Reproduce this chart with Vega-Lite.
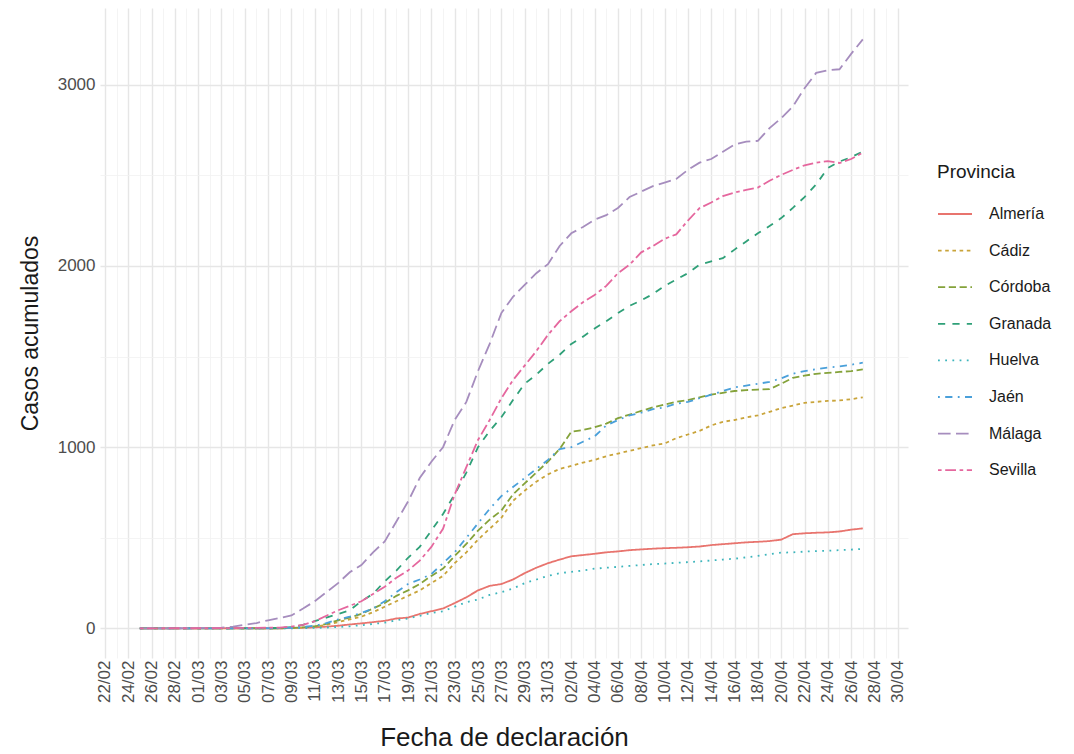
{
  "$schema": "https://vega.github.io/schema/vega-lite/v6.json",
  "width": 808,
  "height": 650,
  "autosize": {"type": "none"},
  "padding": {"left": 100, "top": 8, "right": 166, "bottom": 96},
  "background": "white",
  "config": {
    "view": {"stroke": null},
    "font": "Liberation Sans",
    "axis": {"labelFont": "Liberation Sans", "titleFont": "Liberation Sans", "titleFontWeight": "normal", "domain": false, "ticks": false, "labelColor": "#4D4D4D", "titleColor": "#1A1A1A"},
    "legend": {"labelFont": "Liberation Sans", "titleFont": "Liberation Sans", "titleFontWeight": "normal"}
  },
  "data": {"values": [
{"fecha":"2020-02-25","provincia":"Almería","casos":0},{"fecha":"2020-02-26","provincia":"Almería","casos":0},{"fecha":"2020-02-27","provincia":"Almería","casos":0},{"fecha":"2020-02-28","provincia":"Almería","casos":0},{"fecha":"2020-02-29","provincia":"Almería","casos":0},{"fecha":"2020-03-01","provincia":"Almería","casos":1},{"fecha":"2020-03-02","provincia":"Almería","casos":1},{"fecha":"2020-03-03","provincia":"Almería","casos":1},{"fecha":"2020-03-04","provincia":"Almería","casos":1},{"fecha":"2020-03-05","provincia":"Almería","casos":1},{"fecha":"2020-03-06","provincia":"Almería","casos":1},{"fecha":"2020-03-07","provincia":"Almería","casos":1},{"fecha":"2020-03-08","provincia":"Almería","casos":1},{"fecha":"2020-03-09","provincia":"Almería","casos":2},{"fecha":"2020-03-10","provincia":"Almería","casos":4},{"fecha":"2020-03-11","provincia":"Almería","casos":6},{"fecha":"2020-03-12","provincia":"Almería","casos":10},{"fecha":"2020-03-13","provincia":"Almería","casos":15},{"fecha":"2020-03-14","provincia":"Almería","casos":22},{"fecha":"2020-03-15","provincia":"Almería","casos":28},{"fecha":"2020-03-16","provincia":"Almería","casos":35},{"fecha":"2020-03-17","provincia":"Almería","casos":42},{"fecha":"2020-03-18","provincia":"Almería","casos":55},{"fecha":"2020-03-19","provincia":"Almería","casos":60},{"fecha":"2020-03-20","provincia":"Almería","casos":80},{"fecha":"2020-03-21","provincia":"Almería","casos":95},{"fecha":"2020-03-22","provincia":"Almería","casos":110},{"fecha":"2020-03-23","provincia":"Almería","casos":140},{"fecha":"2020-03-24","provincia":"Almería","casos":172},{"fecha":"2020-03-25","provincia":"Almería","casos":210},{"fecha":"2020-03-26","provincia":"Almería","casos":235},{"fecha":"2020-03-27","provincia":"Almería","casos":245},{"fecha":"2020-03-28","provincia":"Almería","casos":270},{"fecha":"2020-03-29","provincia":"Almería","casos":305},{"fecha":"2020-03-30","provincia":"Almería","casos":335},{"fecha":"2020-03-31","provincia":"Almería","casos":360},{"fecha":"2020-04-01","provincia":"Almería","casos":380},{"fecha":"2020-04-02","provincia":"Almería","casos":398},{"fecha":"2020-04-03","provincia":"Almería","casos":405},{"fecha":"2020-04-04","provincia":"Almería","casos":412},{"fecha":"2020-04-05","provincia":"Almería","casos":420},{"fecha":"2020-04-06","provincia":"Almería","casos":425},{"fecha":"2020-04-07","provincia":"Almería","casos":432},{"fecha":"2020-04-08","provincia":"Almería","casos":436},{"fecha":"2020-04-09","provincia":"Almería","casos":440},{"fecha":"2020-04-10","provincia":"Almería","casos":443},{"fecha":"2020-04-11","provincia":"Almería","casos":445},{"fecha":"2020-04-12","provincia":"Almería","casos":448},{"fecha":"2020-04-13","provincia":"Almería","casos":452},{"fecha":"2020-04-14","provincia":"Almería","casos":460},{"fecha":"2020-04-15","provincia":"Almería","casos":465},{"fecha":"2020-04-16","provincia":"Almería","casos":470},{"fecha":"2020-04-17","provincia":"Almería","casos":475},{"fecha":"2020-04-18","provincia":"Almería","casos":478},{"fecha":"2020-04-19","provincia":"Almería","casos":482},{"fecha":"2020-04-20","provincia":"Almería","casos":490},{"fecha":"2020-04-21","provincia":"Almería","casos":520},{"fecha":"2020-04-22","provincia":"Almería","casos":525},{"fecha":"2020-04-23","provincia":"Almería","casos":528},{"fecha":"2020-04-24","provincia":"Almería","casos":530},{"fecha":"2020-04-25","provincia":"Almería","casos":535},{"fecha":"2020-04-26","provincia":"Almería","casos":545},{"fecha":"2020-04-27","provincia":"Almería","casos":552},
{"fecha":"2020-02-25","provincia":"Cádiz","casos":0},{"fecha":"2020-02-26","provincia":"Cádiz","casos":0},{"fecha":"2020-02-27","provincia":"Cádiz","casos":0},{"fecha":"2020-02-28","provincia":"Cádiz","casos":0},{"fecha":"2020-02-29","provincia":"Cádiz","casos":0},{"fecha":"2020-03-01","provincia":"Cádiz","casos":0},{"fecha":"2020-03-02","provincia":"Cádiz","casos":0},{"fecha":"2020-03-03","provincia":"Cádiz","casos":1},{"fecha":"2020-03-04","provincia":"Cádiz","casos":1},{"fecha":"2020-03-05","provincia":"Cádiz","casos":1},{"fecha":"2020-03-06","provincia":"Cádiz","casos":1},{"fecha":"2020-03-07","provincia":"Cádiz","casos":1},{"fecha":"2020-03-08","provincia":"Cádiz","casos":1},{"fecha":"2020-03-09","provincia":"Cádiz","casos":2},{"fecha":"2020-03-10","provincia":"Cádiz","casos":5},{"fecha":"2020-03-11","provincia":"Cádiz","casos":10},{"fecha":"2020-03-12","provincia":"Cádiz","casos":20},{"fecha":"2020-03-13","provincia":"Cádiz","casos":35},{"fecha":"2020-03-14","provincia":"Cádiz","casos":50},{"fecha":"2020-03-15","provincia":"Cádiz","casos":65},{"fecha":"2020-03-16","provincia":"Cádiz","casos":90},{"fecha":"2020-03-17","provincia":"Cádiz","casos":120},{"fecha":"2020-03-18","provincia":"Cádiz","casos":150},{"fecha":"2020-03-19","provincia":"Cádiz","casos":180},{"fecha":"2020-03-20","provincia":"Cádiz","casos":210},{"fecha":"2020-03-21","provincia":"Cádiz","casos":250},{"fecha":"2020-03-22","provincia":"Cádiz","casos":290},{"fecha":"2020-03-23","provincia":"Cádiz","casos":360},{"fecha":"2020-03-24","provincia":"Cádiz","casos":420},{"fecha":"2020-03-25","provincia":"Cádiz","casos":490},{"fecha":"2020-03-26","provincia":"Cádiz","casos":550},{"fecha":"2020-03-27","provincia":"Cádiz","casos":610},{"fecha":"2020-03-28","provincia":"Cádiz","casos":704},{"fecha":"2020-03-29","provincia":"Cádiz","casos":760},{"fecha":"2020-03-30","provincia":"Cádiz","casos":810},{"fecha":"2020-03-31","provincia":"Cádiz","casos":850},{"fecha":"2020-04-01","provincia":"Cádiz","casos":880},{"fecha":"2020-04-02","provincia":"Cádiz","casos":897},{"fecha":"2020-04-03","provincia":"Cádiz","casos":915},{"fecha":"2020-04-04","provincia":"Cádiz","casos":930},{"fecha":"2020-04-05","provincia":"Cádiz","casos":950},{"fecha":"2020-04-06","provincia":"Cádiz","casos":965},{"fecha":"2020-04-07","provincia":"Cádiz","casos":980},{"fecha":"2020-04-08","provincia":"Cádiz","casos":995},{"fecha":"2020-04-09","provincia":"Cádiz","casos":1010},{"fecha":"2020-04-10","provincia":"Cádiz","casos":1020},{"fecha":"2020-04-11","provincia":"Cádiz","casos":1050},{"fecha":"2020-04-12","provincia":"Cádiz","casos":1070},{"fecha":"2020-04-13","provincia":"Cádiz","casos":1090},{"fecha":"2020-04-14","provincia":"Cádiz","casos":1120},{"fecha":"2020-04-15","provincia":"Cádiz","casos":1140},{"fecha":"2020-04-16","provincia":"Cádiz","casos":1150},{"fecha":"2020-04-17","provincia":"Cádiz","casos":1165},{"fecha":"2020-04-18","provincia":"Cádiz","casos":1175},{"fecha":"2020-04-19","provincia":"Cádiz","casos":1195},{"fecha":"2020-04-20","provincia":"Cádiz","casos":1215},{"fecha":"2020-04-21","provincia":"Cádiz","casos":1230},{"fecha":"2020-04-22","provincia":"Cádiz","casos":1245},{"fecha":"2020-04-23","provincia":"Cádiz","casos":1250},{"fecha":"2020-04-24","provincia":"Cádiz","casos":1255},{"fecha":"2020-04-25","provincia":"Cádiz","casos":1258},{"fecha":"2020-04-26","provincia":"Cádiz","casos":1265},{"fecha":"2020-04-27","provincia":"Cádiz","casos":1275},
{"fecha":"2020-02-25","provincia":"Córdoba","casos":0},{"fecha":"2020-02-26","provincia":"Córdoba","casos":0},{"fecha":"2020-02-27","provincia":"Córdoba","casos":0},{"fecha":"2020-02-28","provincia":"Córdoba","casos":0},{"fecha":"2020-02-29","provincia":"Córdoba","casos":0},{"fecha":"2020-03-01","provincia":"Córdoba","casos":0},{"fecha":"2020-03-02","provincia":"Córdoba","casos":0},{"fecha":"2020-03-03","provincia":"Córdoba","casos":0},{"fecha":"2020-03-04","provincia":"Córdoba","casos":0},{"fecha":"2020-03-05","provincia":"Córdoba","casos":1},{"fecha":"2020-03-06","provincia":"Córdoba","casos":1},{"fecha":"2020-03-07","provincia":"Córdoba","casos":1},{"fecha":"2020-03-08","provincia":"Córdoba","casos":1},{"fecha":"2020-03-09","provincia":"Córdoba","casos":3},{"fecha":"2020-03-10","provincia":"Córdoba","casos":6},{"fecha":"2020-03-11","provincia":"Córdoba","casos":12},{"fecha":"2020-03-12","provincia":"Córdoba","casos":25},{"fecha":"2020-03-13","provincia":"Córdoba","casos":45},{"fecha":"2020-03-14","provincia":"Córdoba","casos":60},{"fecha":"2020-03-15","provincia":"Córdoba","casos":80},{"fecha":"2020-03-16","provincia":"Córdoba","casos":110},{"fecha":"2020-03-17","provincia":"Córdoba","casos":140},{"fecha":"2020-03-18","provincia":"Córdoba","casos":180},{"fecha":"2020-03-19","provincia":"Córdoba","casos":210},{"fecha":"2020-03-20","provincia":"Córdoba","casos":245},{"fecha":"2020-03-21","provincia":"Córdoba","casos":290},{"fecha":"2020-03-22","provincia":"Córdoba","casos":330},{"fecha":"2020-03-23","provincia":"Córdoba","casos":400},{"fecha":"2020-03-24","provincia":"Córdoba","casos":466},{"fecha":"2020-03-25","provincia":"Córdoba","casos":540},{"fecha":"2020-03-26","provincia":"Córdoba","casos":600},{"fecha":"2020-03-27","provincia":"Córdoba","casos":650},{"fecha":"2020-03-28","provincia":"Córdoba","casos":740},{"fecha":"2020-03-29","provincia":"Córdoba","casos":800},{"fecha":"2020-03-30","provincia":"Córdoba","casos":860},{"fecha":"2020-03-31","provincia":"Córdoba","casos":920},{"fecha":"2020-04-01","provincia":"Córdoba","casos":990},{"fecha":"2020-04-02","provincia":"Córdoba","casos":1085},{"fecha":"2020-04-03","provincia":"Córdoba","casos":1095},{"fecha":"2020-04-04","provincia":"Córdoba","casos":1110},{"fecha":"2020-04-05","provincia":"Córdoba","casos":1130},{"fecha":"2020-04-06","provincia":"Córdoba","casos":1160},{"fecha":"2020-04-07","provincia":"Córdoba","casos":1180},{"fecha":"2020-04-08","provincia":"Córdoba","casos":1200},{"fecha":"2020-04-09","provincia":"Córdoba","casos":1220},{"fecha":"2020-04-10","provincia":"Córdoba","casos":1235},{"fecha":"2020-04-11","provincia":"Córdoba","casos":1250},{"fecha":"2020-04-12","provincia":"Córdoba","casos":1260},{"fecha":"2020-04-13","provincia":"Córdoba","casos":1275},{"fecha":"2020-04-14","provincia":"Córdoba","casos":1290},{"fecha":"2020-04-15","provincia":"Córdoba","casos":1300},{"fecha":"2020-04-16","provincia":"Córdoba","casos":1310},{"fecha":"2020-04-17","provincia":"Córdoba","casos":1315},{"fecha":"2020-04-18","provincia":"Córdoba","casos":1318},{"fecha":"2020-04-19","provincia":"Córdoba","casos":1320},{"fecha":"2020-04-20","provincia":"Córdoba","casos":1350},{"fecha":"2020-04-21","provincia":"Córdoba","casos":1383},{"fecha":"2020-04-22","provincia":"Córdoba","casos":1395},{"fecha":"2020-04-23","provincia":"Córdoba","casos":1405},{"fecha":"2020-04-24","provincia":"Córdoba","casos":1410},{"fecha":"2020-04-25","provincia":"Córdoba","casos":1415},{"fecha":"2020-04-26","provincia":"Córdoba","casos":1420},{"fecha":"2020-04-27","provincia":"Córdoba","casos":1429},
{"fecha":"2020-02-25","provincia":"Granada","casos":0},{"fecha":"2020-02-26","provincia":"Granada","casos":0},{"fecha":"2020-02-27","provincia":"Granada","casos":0},{"fecha":"2020-02-28","provincia":"Granada","casos":0},{"fecha":"2020-02-29","provincia":"Granada","casos":0},{"fecha":"2020-03-01","provincia":"Granada","casos":0},{"fecha":"2020-03-02","provincia":"Granada","casos":0},{"fecha":"2020-03-03","provincia":"Granada","casos":0},{"fecha":"2020-03-04","provincia":"Granada","casos":1},{"fecha":"2020-03-05","provincia":"Granada","casos":1},{"fecha":"2020-03-06","provincia":"Granada","casos":1},{"fecha":"2020-03-07","provincia":"Granada","casos":1},{"fecha":"2020-03-08","provincia":"Granada","casos":3},{"fecha":"2020-03-09","provincia":"Granada","casos":8},{"fecha":"2020-03-10","provincia":"Granada","casos":20},{"fecha":"2020-03-11","provincia":"Granada","casos":40},{"fecha":"2020-03-12","provincia":"Granada","casos":60},{"fecha":"2020-03-13","provincia":"Granada","casos":80},{"fecha":"2020-03-14","provincia":"Granada","casos":100},{"fecha":"2020-03-15","provincia":"Granada","casos":150},{"fecha":"2020-03-16","provincia":"Granada","casos":191},{"fecha":"2020-03-17","provincia":"Granada","casos":260},{"fecha":"2020-03-18","provincia":"Granada","casos":319},{"fecha":"2020-03-19","provincia":"Granada","casos":390},{"fecha":"2020-03-20","provincia":"Granada","casos":450},{"fecha":"2020-03-21","provincia":"Granada","casos":540},{"fecha":"2020-03-22","provincia":"Granada","casos":631},{"fecha":"2020-03-23","provincia":"Granada","casos":740},{"fecha":"2020-03-24","provincia":"Granada","casos":860},{"fecha":"2020-03-25","provincia":"Granada","casos":1000},{"fecha":"2020-03-26","provincia":"Granada","casos":1090},{"fecha":"2020-03-27","provincia":"Granada","casos":1165},{"fecha":"2020-03-28","provincia":"Granada","casos":1260},{"fecha":"2020-03-29","provincia":"Granada","casos":1350},{"fecha":"2020-03-30","provincia":"Granada","casos":1400},{"fecha":"2020-03-31","provincia":"Granada","casos":1460},{"fecha":"2020-04-01","provincia":"Granada","casos":1510},{"fecha":"2020-04-02","provincia":"Granada","casos":1570},{"fecha":"2020-04-03","provincia":"Granada","casos":1610},{"fecha":"2020-04-04","provincia":"Granada","casos":1655},{"fecha":"2020-04-05","provincia":"Granada","casos":1695},{"fecha":"2020-04-06","provincia":"Granada","casos":1740},{"fecha":"2020-04-07","provincia":"Granada","casos":1780},{"fecha":"2020-04-08","provincia":"Granada","casos":1810},{"fecha":"2020-04-09","provincia":"Granada","casos":1845},{"fecha":"2020-04-10","provincia":"Granada","casos":1890},{"fecha":"2020-04-11","provincia":"Granada","casos":1925},{"fecha":"2020-04-12","provincia":"Granada","casos":1960},{"fecha":"2020-04-13","provincia":"Granada","casos":2007},{"fecha":"2020-04-14","provincia":"Granada","casos":2025},{"fecha":"2020-04-15","provincia":"Granada","casos":2043},{"fecha":"2020-04-16","provincia":"Granada","casos":2090},{"fecha":"2020-04-17","provincia":"Granada","casos":2135},{"fecha":"2020-04-18","provincia":"Granada","casos":2180},{"fecha":"2020-04-19","provincia":"Granada","casos":2220},{"fecha":"2020-04-20","provincia":"Granada","casos":2264},{"fecha":"2020-04-21","provincia":"Granada","casos":2320},{"fecha":"2020-04-22","provincia":"Granada","casos":2380},{"fecha":"2020-04-23","provincia":"Granada","casos":2450},{"fecha":"2020-04-24","provincia":"Granada","casos":2540},{"fecha":"2020-04-25","provincia":"Granada","casos":2576},{"fecha":"2020-04-26","provincia":"Granada","casos":2600},{"fecha":"2020-04-27","provincia":"Granada","casos":2631},
{"fecha":"2020-02-25","provincia":"Huelva","casos":0},{"fecha":"2020-02-26","provincia":"Huelva","casos":0},{"fecha":"2020-02-27","provincia":"Huelva","casos":0},{"fecha":"2020-02-28","provincia":"Huelva","casos":0},{"fecha":"2020-02-29","provincia":"Huelva","casos":0},{"fecha":"2020-03-01","provincia":"Huelva","casos":0},{"fecha":"2020-03-02","provincia":"Huelva","casos":0},{"fecha":"2020-03-03","provincia":"Huelva","casos":0},{"fecha":"2020-03-04","provincia":"Huelva","casos":0},{"fecha":"2020-03-05","provincia":"Huelva","casos":0},{"fecha":"2020-03-06","provincia":"Huelva","casos":0},{"fecha":"2020-03-07","provincia":"Huelva","casos":0},{"fecha":"2020-03-08","provincia":"Huelva","casos":0},{"fecha":"2020-03-09","provincia":"Huelva","casos":1},{"fecha":"2020-03-10","provincia":"Huelva","casos":2},{"fecha":"2020-03-11","provincia":"Huelva","casos":3},{"fecha":"2020-03-12","provincia":"Huelva","casos":5},{"fecha":"2020-03-13","provincia":"Huelva","casos":8},{"fecha":"2020-03-14","provincia":"Huelva","casos":12},{"fecha":"2020-03-15","provincia":"Huelva","casos":18},{"fecha":"2020-03-16","provincia":"Huelva","casos":25},{"fecha":"2020-03-17","provincia":"Huelva","casos":32},{"fecha":"2020-03-18","provincia":"Huelva","casos":45},{"fecha":"2020-03-19","provincia":"Huelva","casos":55},{"fecha":"2020-03-20","provincia":"Huelva","casos":70},{"fecha":"2020-03-21","provincia":"Huelva","casos":85},{"fecha":"2020-03-22","provincia":"Huelva","casos":95},{"fecha":"2020-03-23","provincia":"Huelva","casos":120},{"fecha":"2020-03-24","provincia":"Huelva","casos":145},{"fecha":"2020-03-25","provincia":"Huelva","casos":160},{"fecha":"2020-03-26","provincia":"Huelva","casos":185},{"fecha":"2020-03-27","provincia":"Huelva","casos":200},{"fecha":"2020-03-28","provincia":"Huelva","casos":220},{"fecha":"2020-03-29","provincia":"Huelva","casos":250},{"fecha":"2020-03-30","provincia":"Huelva","casos":270},{"fecha":"2020-03-31","provincia":"Huelva","casos":290},{"fecha":"2020-04-01","provincia":"Huelva","casos":305},{"fecha":"2020-04-02","provincia":"Huelva","casos":312},{"fecha":"2020-04-03","provincia":"Huelva","casos":320},{"fecha":"2020-04-04","provincia":"Huelva","casos":330},{"fecha":"2020-04-05","provincia":"Huelva","casos":335},{"fecha":"2020-04-06","provincia":"Huelva","casos":340},{"fecha":"2020-04-07","provincia":"Huelva","casos":345},{"fecha":"2020-04-08","provincia":"Huelva","casos":350},{"fecha":"2020-04-09","provincia":"Huelva","casos":355},{"fecha":"2020-04-10","provincia":"Huelva","casos":358},{"fecha":"2020-04-11","provincia":"Huelva","casos":362},{"fecha":"2020-04-12","provincia":"Huelva","casos":366},{"fecha":"2020-04-13","provincia":"Huelva","casos":370},{"fecha":"2020-04-14","provincia":"Huelva","casos":375},{"fecha":"2020-04-15","provincia":"Huelva","casos":380},{"fecha":"2020-04-16","provincia":"Huelva","casos":385},{"fecha":"2020-04-17","provincia":"Huelva","casos":392},{"fecha":"2020-04-18","provincia":"Huelva","casos":400},{"fecha":"2020-04-19","provincia":"Huelva","casos":410},{"fecha":"2020-04-20","provincia":"Huelva","casos":418},{"fecha":"2020-04-21","provincia":"Huelva","casos":420},{"fecha":"2020-04-22","provincia":"Huelva","casos":424},{"fecha":"2020-04-23","provincia":"Huelva","casos":427},{"fecha":"2020-04-24","provincia":"Huelva","casos":429},{"fecha":"2020-04-25","provincia":"Huelva","casos":432},{"fecha":"2020-04-26","provincia":"Huelva","casos":435},{"fecha":"2020-04-27","provincia":"Huelva","casos":439},
{"fecha":"2020-02-25","provincia":"Jaén","casos":0},{"fecha":"2020-02-26","provincia":"Jaén","casos":0},{"fecha":"2020-02-27","provincia":"Jaén","casos":0},{"fecha":"2020-02-28","provincia":"Jaén","casos":0},{"fecha":"2020-02-29","provincia":"Jaén","casos":0},{"fecha":"2020-03-01","provincia":"Jaén","casos":0},{"fecha":"2020-03-02","provincia":"Jaén","casos":0},{"fecha":"2020-03-03","provincia":"Jaén","casos":0},{"fecha":"2020-03-04","provincia":"Jaén","casos":0},{"fecha":"2020-03-05","provincia":"Jaén","casos":0},{"fecha":"2020-03-06","provincia":"Jaén","casos":1},{"fecha":"2020-03-07","provincia":"Jaén","casos":1},{"fecha":"2020-03-08","provincia":"Jaén","casos":2},{"fecha":"2020-03-09","provincia":"Jaén","casos":4},{"fecha":"2020-03-10","provincia":"Jaén","casos":8},{"fecha":"2020-03-11","provincia":"Jaén","casos":15},{"fecha":"2020-03-12","provincia":"Jaén","casos":30},{"fecha":"2020-03-13","provincia":"Jaén","casos":50},{"fecha":"2020-03-14","provincia":"Jaén","casos":65},{"fecha":"2020-03-15","provincia":"Jaén","casos":85},{"fecha":"2020-03-16","provincia":"Jaén","casos":110},{"fecha":"2020-03-17","provincia":"Jaén","casos":150},{"fecha":"2020-03-18","provincia":"Jaén","casos":200},{"fecha":"2020-03-19","provincia":"Jaén","casos":245},{"fecha":"2020-03-20","provincia":"Jaén","casos":270},{"fecha":"2020-03-21","provincia":"Jaén","casos":300},{"fecha":"2020-03-22","provincia":"Jaén","casos":360},{"fecha":"2020-03-23","provincia":"Jaén","casos":420},{"fecha":"2020-03-24","provincia":"Jaén","casos":500},{"fecha":"2020-03-25","provincia":"Jaén","casos":580},{"fecha":"2020-03-26","provincia":"Jaén","casos":660},{"fecha":"2020-03-27","provincia":"Jaén","casos":730},{"fecha":"2020-03-28","provincia":"Jaén","casos":780},{"fecha":"2020-03-29","provincia":"Jaén","casos":830},{"fecha":"2020-03-30","provincia":"Jaén","casos":880},{"fecha":"2020-03-31","provincia":"Jaén","casos":930},{"fecha":"2020-04-01","provincia":"Jaén","casos":990},{"fecha":"2020-04-02","provincia":"Jaén","casos":1000},{"fecha":"2020-04-03","provincia":"Jaén","casos":1030},{"fecha":"2020-04-04","provincia":"Jaén","casos":1060},{"fecha":"2020-04-05","provincia":"Jaén","casos":1120},{"fecha":"2020-04-06","provincia":"Jaén","casos":1150},{"fecha":"2020-04-07","provincia":"Jaén","casos":1175},{"fecha":"2020-04-08","provincia":"Jaén","casos":1190},{"fecha":"2020-04-09","provincia":"Jaén","casos":1210},{"fecha":"2020-04-10","provincia":"Jaén","casos":1220},{"fecha":"2020-04-11","provincia":"Jaén","casos":1240},{"fecha":"2020-04-12","provincia":"Jaén","casos":1250},{"fecha":"2020-04-13","provincia":"Jaén","casos":1270},{"fecha":"2020-04-14","provincia":"Jaén","casos":1290},{"fecha":"2020-04-15","provincia":"Jaén","casos":1310},{"fecha":"2020-04-16","provincia":"Jaén","casos":1330},{"fecha":"2020-04-17","provincia":"Jaén","casos":1340},{"fecha":"2020-04-18","provincia":"Jaén","casos":1350},{"fecha":"2020-04-19","provincia":"Jaén","casos":1360},{"fecha":"2020-04-20","provincia":"Jaén","casos":1380},{"fecha":"2020-04-21","provincia":"Jaén","casos":1405},{"fecha":"2020-04-22","provincia":"Jaén","casos":1420},{"fecha":"2020-04-23","provincia":"Jaén","casos":1430},{"fecha":"2020-04-24","provincia":"Jaén","casos":1440},{"fecha":"2020-04-25","provincia":"Jaén","casos":1445},{"fecha":"2020-04-26","provincia":"Jaén","casos":1455},{"fecha":"2020-04-27","provincia":"Jaén","casos":1466},
{"fecha":"2020-02-25","provincia":"Málaga","casos":0},{"fecha":"2020-02-26","provincia":"Málaga","casos":0},{"fecha":"2020-02-27","provincia":"Málaga","casos":0},{"fecha":"2020-02-28","provincia":"Málaga","casos":1},{"fecha":"2020-02-29","provincia":"Málaga","casos":1},{"fecha":"2020-03-01","provincia":"Málaga","casos":2},{"fecha":"2020-03-02","provincia":"Málaga","casos":3},{"fecha":"2020-03-03","provincia":"Málaga","casos":5},{"fecha":"2020-03-04","provincia":"Málaga","casos":10},{"fecha":"2020-03-05","provincia":"Málaga","casos":20},{"fecha":"2020-03-06","provincia":"Málaga","casos":30},{"fecha":"2020-03-07","provincia":"Málaga","casos":45},{"fecha":"2020-03-08","provincia":"Málaga","casos":58},{"fecha":"2020-03-09","provincia":"Málaga","casos":72},{"fecha":"2020-03-10","provincia":"Málaga","casos":110},{"fecha":"2020-03-11","provincia":"Málaga","casos":150},{"fecha":"2020-03-12","provincia":"Málaga","casos":200},{"fecha":"2020-03-13","provincia":"Málaga","casos":250},{"fecha":"2020-03-14","provincia":"Málaga","casos":310},{"fecha":"2020-03-15","provincia":"Málaga","casos":350},{"fecha":"2020-03-16","provincia":"Málaga","casos":420},{"fecha":"2020-03-17","provincia":"Málaga","casos":480},{"fecha":"2020-03-18","provincia":"Málaga","casos":590},{"fecha":"2020-03-19","provincia":"Málaga","casos":700},{"fecha":"2020-03-20","provincia":"Málaga","casos":830},{"fecha":"2020-03-21","provincia":"Málaga","casos":920},{"fecha":"2020-03-22","provincia":"Málaga","casos":1000},{"fecha":"2020-03-23","provincia":"Málaga","casos":1150},{"fecha":"2020-03-24","provincia":"Málaga","casos":1250},{"fecha":"2020-03-25","provincia":"Málaga","casos":1420},{"fecha":"2020-03-26","provincia":"Málaga","casos":1570},{"fecha":"2020-03-27","provincia":"Málaga","casos":1740},{"fecha":"2020-03-28","provincia":"Málaga","casos":1830},{"fecha":"2020-03-29","provincia":"Málaga","casos":1895},{"fecha":"2020-03-30","provincia":"Málaga","casos":1960},{"fecha":"2020-03-31","provincia":"Málaga","casos":2010},{"fecha":"2020-04-01","provincia":"Málaga","casos":2110},{"fecha":"2020-04-02","provincia":"Málaga","casos":2180},{"fecha":"2020-04-03","provincia":"Málaga","casos":2215},{"fecha":"2020-04-04","provincia":"Málaga","casos":2255},{"fecha":"2020-04-05","provincia":"Málaga","casos":2280},{"fecha":"2020-04-06","provincia":"Málaga","casos":2320},{"fecha":"2020-04-07","provincia":"Málaga","casos":2380},{"fecha":"2020-04-08","provincia":"Málaga","casos":2410},{"fecha":"2020-04-09","provincia":"Málaga","casos":2440},{"fecha":"2020-04-10","provincia":"Málaga","casos":2460},{"fecha":"2020-04-11","provincia":"Málaga","casos":2480},{"fecha":"2020-04-12","provincia":"Málaga","casos":2530},{"fecha":"2020-04-13","provincia":"Málaga","casos":2570},{"fecha":"2020-04-14","provincia":"Málaga","casos":2590},{"fecha":"2020-04-15","provincia":"Málaga","casos":2630},{"fecha":"2020-04-16","provincia":"Málaga","casos":2670},{"fecha":"2020-04-17","provincia":"Málaga","casos":2686},{"fecha":"2020-04-18","provincia":"Málaga","casos":2690},{"fecha":"2020-04-19","provincia":"Málaga","casos":2760},{"fecha":"2020-04-20","provincia":"Málaga","casos":2815},{"fecha":"2020-04-21","provincia":"Málaga","casos":2880},{"fecha":"2020-04-22","provincia":"Málaga","casos":2980},{"fecha":"2020-04-23","provincia":"Málaga","casos":3065},{"fecha":"2020-04-24","provincia":"Málaga","casos":3080},{"fecha":"2020-04-25","provincia":"Málaga","casos":3085},{"fecha":"2020-04-26","provincia":"Málaga","casos":3170},{"fecha":"2020-04-27","provincia":"Málaga","casos":3250},
{"fecha":"2020-02-25","provincia":"Sevilla","casos":0},{"fecha":"2020-02-26","provincia":"Sevilla","casos":0},{"fecha":"2020-02-27","provincia":"Sevilla","casos":1},{"fecha":"2020-02-28","provincia":"Sevilla","casos":1},{"fecha":"2020-02-29","provincia":"Sevilla","casos":1},{"fecha":"2020-03-01","provincia":"Sevilla","casos":1},{"fecha":"2020-03-02","provincia":"Sevilla","casos":1},{"fecha":"2020-03-03","provincia":"Sevilla","casos":2},{"fecha":"2020-03-04","provincia":"Sevilla","casos":2},{"fecha":"2020-03-05","provincia":"Sevilla","casos":3},{"fecha":"2020-03-06","provincia":"Sevilla","casos":3},{"fecha":"2020-03-07","provincia":"Sevilla","casos":4},{"fecha":"2020-03-08","provincia":"Sevilla","casos":5},{"fecha":"2020-03-09","provincia":"Sevilla","casos":10},{"fecha":"2020-03-10","provincia":"Sevilla","casos":20},{"fecha":"2020-03-11","provincia":"Sevilla","casos":40},{"fecha":"2020-03-12","provincia":"Sevilla","casos":70},{"fecha":"2020-03-13","provincia":"Sevilla","casos":100},{"fecha":"2020-03-14","provincia":"Sevilla","casos":125},{"fecha":"2020-03-15","provincia":"Sevilla","casos":150},{"fecha":"2020-03-16","provincia":"Sevilla","casos":190},{"fecha":"2020-03-17","provincia":"Sevilla","casos":230},{"fecha":"2020-03-18","provincia":"Sevilla","casos":280},{"fecha":"2020-03-19","provincia":"Sevilla","casos":320},{"fecha":"2020-03-20","provincia":"Sevilla","casos":374},{"fecha":"2020-03-21","provincia":"Sevilla","casos":450},{"fecha":"2020-03-22","provincia":"Sevilla","casos":550},{"fecha":"2020-03-23","provincia":"Sevilla","casos":740},{"fecha":"2020-03-24","provincia":"Sevilla","casos":890},{"fecha":"2020-03-25","provincia":"Sevilla","casos":1040},{"fecha":"2020-03-26","provincia":"Sevilla","casos":1150},{"fecha":"2020-03-27","provincia":"Sevilla","casos":1270},{"fecha":"2020-03-28","provincia":"Sevilla","casos":1370},{"fecha":"2020-03-29","provincia":"Sevilla","casos":1450},{"fecha":"2020-03-30","provincia":"Sevilla","casos":1530},{"fecha":"2020-03-31","provincia":"Sevilla","casos":1620},{"fecha":"2020-04-01","provincia":"Sevilla","casos":1695},{"fecha":"2020-04-02","provincia":"Sevilla","casos":1750},{"fecha":"2020-04-03","provincia":"Sevilla","casos":1800},{"fecha":"2020-04-04","provincia":"Sevilla","casos":1840},{"fecha":"2020-04-05","provincia":"Sevilla","casos":1890},{"fecha":"2020-04-06","provincia":"Sevilla","casos":1960},{"fecha":"2020-04-07","provincia":"Sevilla","casos":2007},{"fecha":"2020-04-08","provincia":"Sevilla","casos":2075},{"fecha":"2020-04-09","provincia":"Sevilla","casos":2110},{"fecha":"2020-04-10","provincia":"Sevilla","casos":2150},{"fecha":"2020-04-11","provincia":"Sevilla","casos":2174},{"fecha":"2020-04-12","provincia":"Sevilla","casos":2250},{"fecha":"2020-04-13","provincia":"Sevilla","casos":2319},{"fecha":"2020-04-14","provincia":"Sevilla","casos":2350},{"fecha":"2020-04-15","provincia":"Sevilla","casos":2385},{"fecha":"2020-04-16","provincia":"Sevilla","casos":2405},{"fecha":"2020-04-17","provincia":"Sevilla","casos":2420},{"fecha":"2020-04-18","provincia":"Sevilla","casos":2432},{"fecha":"2020-04-19","provincia":"Sevilla","casos":2470},{"fecha":"2020-04-20","provincia":"Sevilla","casos":2502},{"fecha":"2020-04-21","provincia":"Sevilla","casos":2530},{"fecha":"2020-04-22","provincia":"Sevilla","casos":2555},{"fecha":"2020-04-23","provincia":"Sevilla","casos":2570},{"fecha":"2020-04-24","provincia":"Sevilla","casos":2578},{"fecha":"2020-04-25","provincia":"Sevilla","casos":2568},{"fecha":"2020-04-26","provincia":"Sevilla","casos":2590},{"fecha":"2020-04-27","provincia":"Sevilla","casos":2625}
  ]},
  "mark": {"type": "line", "strokeWidth": 1.8, "clip": true},
  "encoding": {
    "x": {
      "field": "fecha", "type": "temporal",
      "scale": {"type": "utc", "domain": ["2020-02-21T14:00:00Z", "2020-04-30T21:00:00Z"], "nice": false},
      "axis": {
        "title": "Fecha de declaración",
        "titleFontSize": 26,
        "titlePadding": 22,
        "labelFontSize": 17,
        "labelAngle": 270,
        "labelAlign": "right",
        "labelBaseline": "middle",
        "labelPadding": 2,
        "labelOverlap": false,
        "labelBound": false,
        "labelFlush": false,
        "tickCount": {"interval": "day", "step": 1},
        "labelExpr": "round((datum.value - utc(2020,1,22))/86400000) % 2 == 0 ? utcFormat(datum.value, '%d/%m') : ''",
        "grid": true,
        "gridColor": {"condition": {"test": "round((datum.value - utc(2020,1,22))/86400000) % 2 == 0", "value": "#E6E6E6"}, "value": "#F1F1F1"},
        "gridWidth": {"condition": {"test": "round((datum.value - utc(2020,1,22))/86400000) % 2 == 0", "value": 1.4}, "value": 0.8}
      }
    },
    "y": {
      "field": "casos", "type": "quantitative",
      "scale": {"domain": [-163, 3423], "nice": false, "zero": false},
      "axis": {
        "title": "Casos acumulados",
        "titleFontSize": 23,
        "titlePadding": 15,
        "labelFontSize": 17,
        "labelPadding": 5,
        "values": [0, 500, 1000, 1500, 2000, 2500, 3000],
        "format": "d",
        "labelExpr": "datum.value % 1000 == 0 ? datum.label : ''",
        "grid": true,
        "gridColor": {"condition": {"test": "datum.value % 1000 == 0", "value": "#E6E6E6"}, "value": "#F1F1F1"},
        "gridWidth": {"condition": {"test": "datum.value % 1000 == 0", "value": 1.4}, "value": 0.8}
      }
    },
    "color": {
      "field": "provincia", "type": "nominal",
      "scale": {
        "domain": ["Almería", "Cádiz", "Córdoba", "Granada", "Huelva", "Jaén", "Málaga", "Sevilla"],
        "range": ["#E8746E", "#C9A43A", "#84A23A", "#2FA078", "#3DB5BC", "#4AA0DA", "#A68DBE", "#E5679E"]
      },
      "legend": {
        "title": "Provincia",
        "orient": "none",
        "legendX": 837,
        "legendY": 155,
        "titleFontSize": 19,
        "titleColor": "#1A1A1A",
        "titlePadding": 14,
        "labelFontSize": 16,
        "labelColor": "#1A1A1A",
        "labelOffset": 16,
        "symbolType": "stroke",
        "symbolSize": 1156,
        "symbolStrokeWidth": 1.8,
        "rowPadding": 10.6
      }
    },
    "strokeDash": {
      "field": "provincia", "type": "nominal",
      "scale": {
        "domain": ["Almería", "Cádiz", "Córdoba", "Granada", "Huelva", "Jaén", "Málaga", "Sevilla"],
        "range": [[1, 0], [3.6, 3.6], [7.2, 3.6], [7.2, 7.2], [1.8, 5.4], [1.8, 5.4, 7.2, 5.4], [12.6, 5.4], [3.6, 3.6, 10.8, 3.6]]
      },
      "legend": null
    }
  }
}
